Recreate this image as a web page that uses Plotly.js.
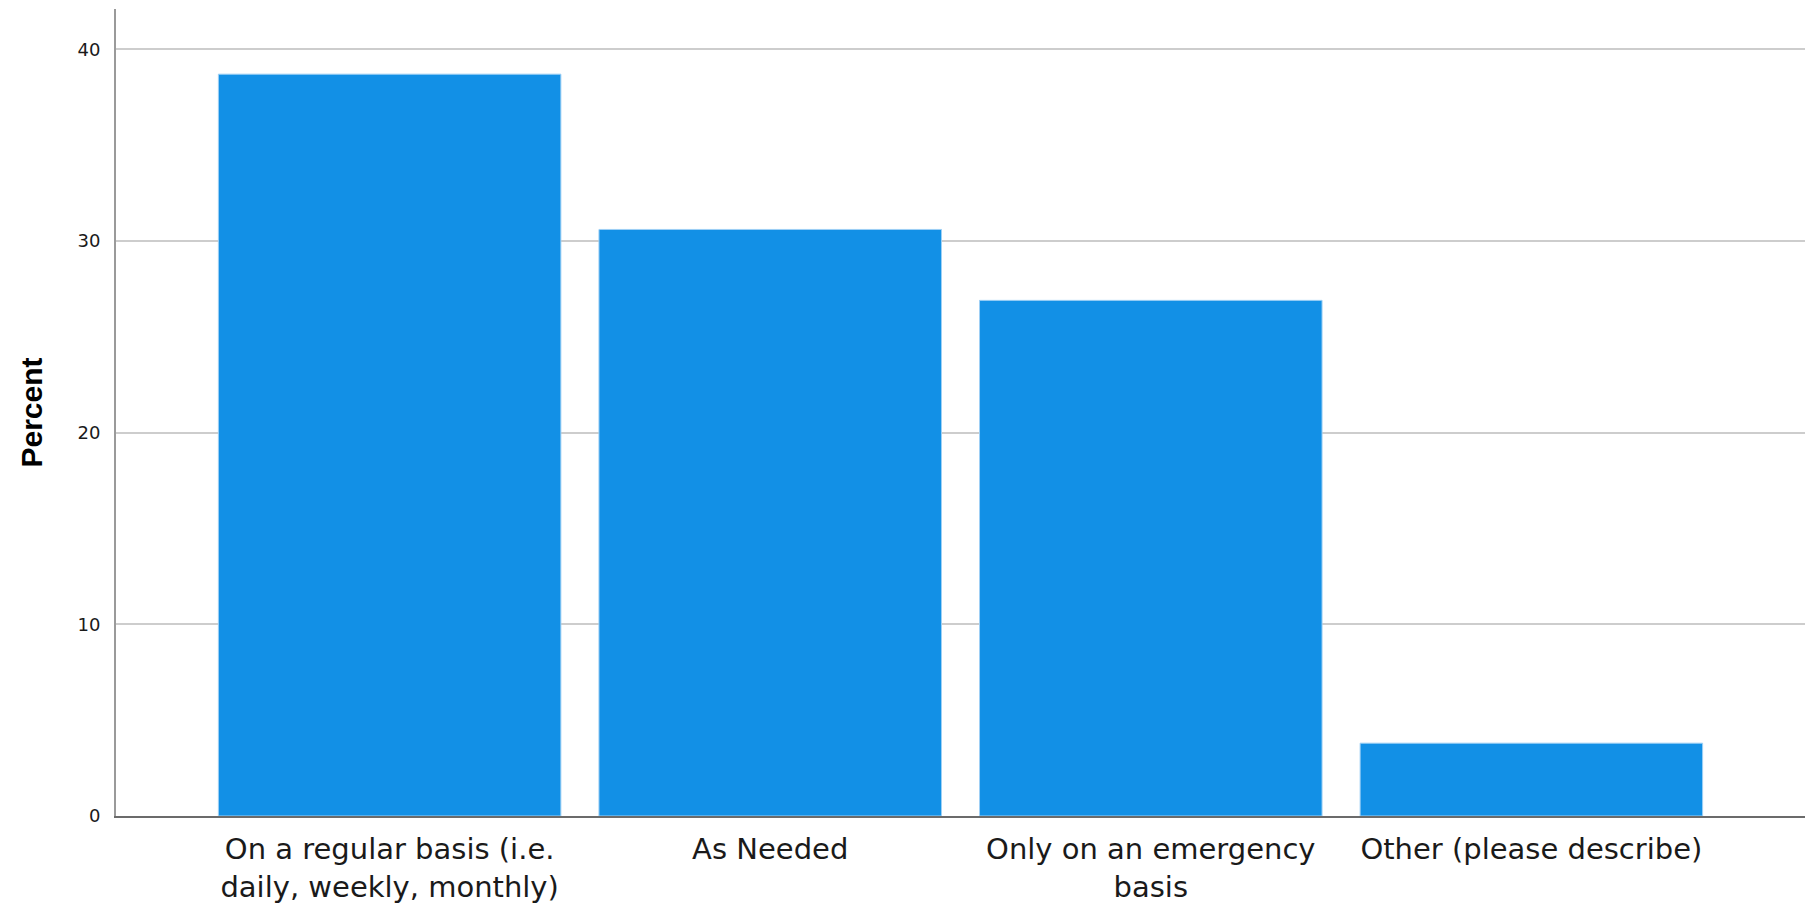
<!DOCTYPE html>
<html>
<head>
<meta charset="utf-8">
<script src="https://cdn.plot.ly/plotly-3.0.1.min.js"></script>
<style>
  html, body { margin: 0; padding: 0; background: #ffffff; }
  #chart { width: 1805px; height: 904px; }
</style>
</head>
<body>
<div id="chart"></div>
<script>
// Data
const categories = [
  "On a regular basis (i.e.<br>daily, weekly, monthly)",
  "As Needed",
  "Only on an emergency<br>basis",
  "Other (please describe)"
];
const percentValues = [38.7, 30.6, 26.9, 3.8];
const yTickValues = [0, 10, 20, 30, 40];
const yTickLabels = ["0", "10", "20", "30", "40"];
const yAxisTitle = "Percent";

const trace = {
  type: "bar",
  x: [0, 1, 2, 3],
  y: percentValues,
  marker: {
    color: "#1290E6",
    line: { color: "#9fd0f5", width: 1 }
  },
  hoverinfo: "none"
};

const layout = {
  width: 1805,
  height: 904,
  margin: { l: 116, r: 0, t: 9, b: 88, pad: 0 },
  paper_bgcolor: "#ffffff",
  plot_bgcolor: "#ffffff",
  showlegend: false,
  bargap: 0.1,
  xaxis: {
    range: [-0.719, 3.719],
    tickmode: "array",
    tickvals: [0, 1, 2, 3],
    ticktext: categories,
    ticks: "",
    showgrid: false,
    zeroline: false,
    showline: true,
    linecolor: "#6b6b6b",
    linewidth: 2,
    tickfont: { family: "DejaVu Sans", size: 29, color: "#1a1a1a" },
    ticklabelstandoff: 6,
    fixedrange: true
  },
  yaxis: {
    range: [0, 42.1],
    tickmode: "array",
    tickvals: yTickValues,
    ticktext: yTickLabels,
    ticks: "",
    showgrid: true,
    gridcolor: "#cdcdcd",
    gridwidth: 2,
    zeroline: false,
    showline: true,
    linecolor: "#9a9a9a",
    linewidth: 2,
    tickfont: { family: "DejaVu Sans", size: 18, color: "#1a1a1a" },
    ticklabelstandoff: 10,
    title: {
      text: "<b>" + yAxisTitle + "</b>",
      font: { family: "Liberation Sans", size: 30, color: "#000000" },
      standoff: 26
    },
    fixedrange: true
  }
};

Plotly.newPlot("chart", [trace], layout, { displayModeBar: false, staticPlot: true });
</script>
</body>
</html>
